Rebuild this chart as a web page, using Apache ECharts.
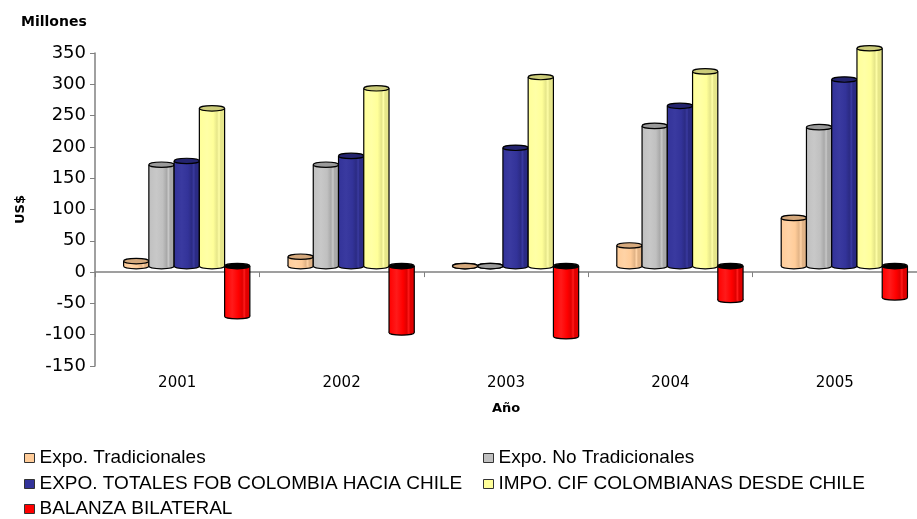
<!DOCTYPE html>
<html>
<head>
<meta charset="utf-8">
<script src="https://cdn.jsdelivr.net/npm/echarts@6/dist/echarts.min.js"></script>
<style>
  html, body { margin: 0; padding: 0; background: #fff; }
  #chart { width: 917px; height: 519px; }
</style>
</head>
<body>
<div id="chart"></div>
<script>
// Intercambio comercial Colombia - Chile, millones de US$
const years = ['2001', '2002', '2003', '2004', '2005'];
const expoTradicionales = [8, 15, 0, 33, 77];
const expoNoTradicionales = [162, 162, 0, 224, 222];
const expoTotales = [168, 176, 189, 256, 298];
const impoCif = [252, 284, 302, 311, 348];
const balanzaBilateral = [-80, -106, -112, -54, -50];
const yTicks = { min: -150, max: 350, interval: 50 };

const FONT = 'DejaVu Sans';
const LEGEND_FONT = 'Liberation Sans';

// cylinder palette: body light / body dark / top face / legend swatch
const seriesDefs = [
  { name: 'Expo. Tradicionales', values: expoTradicionales,
    light: '#FFD3A6', base: '#FFCC99', dark: '#E2B487', top: '#D4A87C', swatch: '#FFCC99' },
  { name: 'Expo. No Tradicionales', values: expoNoTradicionales,
    light: '#C8C8C8', base: '#C0C0C0', dark: '#A9A9A9', top: '#9A9A9A', swatch: '#C0C0C0' },
  { name: 'EXPO. TOTALES FOB COLOMBIA HACIA CHILE', values: expoTotales,
    light: '#3A3AA0', base: '#333399', dark: '#2B2B84', top: '#24246E', swatch: '#333399' },
  { name: 'IMPO. CIF COLOMBIANAS DESDE CHILE', values: impoCif,
    light: '#FFFFA6', base: '#FFFF99', dark: '#E6E68A', top: '#CCCC7A', swatch: '#FFFF99' },
  { name: 'BALANZA BILATERAL', values: balanzaBilateral,
    light: '#FF1A1A', base: '#FF0000', dark: '#E00000', top: '#000000', swatch: '#FF0000' }
];

// legend grid: [left, row centre]
const legendSlots = [[24, 458], [483, 458], [24, 484], [483, 484], [24, 509]];

function bodyGradient(d) {
  return new echarts.graphic.LinearGradient(0, 0, 1, 0, [
    { offset: 0, color: d.base },
    { offset: 0.3, color: d.light },
    { offset: 0.55, color: d.base },
    { offset: 0.7, color: d.dark },
    { offset: 0.78, color: d.light },
    { offset: 0.84, color: d.dark },
    { offset: 1, color: d.dark }
  ]);
}

// draws one column as a cylinder seen slightly from above (3D look)
function cylinderRenderer(idx, d) {
  return function (params, api) {
    const cat = api.value(0);
    const val = api.value(1);
    const band = api.size([1, 0])[0];
    const w = band * 0.1536;
    const depthX = band * 0.058;
    const depthY = -6;
    const zero = api.coord([cat, 0]);
    const end = api.coord([cat, val]);
    const x = zero[0] - 2.5 * w + idx * w + depthX;
    const yZero = zero[1] + depthY;
    const yVal = end[1] + depthY;
    const yUp = Math.min(yZero, yVal);
    const yLow = Math.max(yZero, yVal);
    const rx = w / 2;
    const ry = 2.7;
    const cx = x + rx;
    const grad = bodyGradient(d);
    return {
      type: 'group',
      children: [
        { type: 'ellipse', shape: { cx: cx, cy: yLow, rx: rx, ry: ry },
          style: { fill: grad, stroke: '#000', lineWidth: 1.2 } },
        { type: 'rect', shape: { x: x, y: yUp, width: w, height: yLow - yUp },
          style: { fill: grad } },
        { type: 'line', shape: { x1: x, y1: yUp, x2: x, y2: yLow },
          style: { stroke: '#000', lineWidth: 1.2 } },
        { type: 'line', shape: { x1: x + w, y1: yUp, x2: x + w, y2: yLow },
          style: { stroke: '#000', lineWidth: 1.2 } },
        { type: 'ellipse', shape: { cx: cx, cy: yUp, rx: rx, ry: ry },
          style: { fill: d.top, stroke: '#000', lineWidth: 1.2 } }
      ]
    };
  };
}

const series = seriesDefs.map(function (d, i) {
  return {
    type: 'custom',
    name: d.name,
    renderItem: cylinderRenderer(i, d),
    encode: { x: 0, y: 1 },
    itemStyle: { color: d.swatch },
    data: d.values.map(function (v, c) { return [c, v]; })
  };
});

const legends = seriesDefs.map(function (d, i) {
  const slot = legendSlots[i];
  return {
    left: slot[0], top: slot[1] - 9.5, padding: 0,
    itemWidth: 10, itemHeight: 9, icon: 'rect', selectedMode: false,
    textStyle: { fontFamily: LEGEND_FONT, fontSize: 19, color: '#000', lineHeight: 19 },
    data: [{ name: d.name, itemStyle: { color: d.swatch, borderColor: '#333', borderWidth: 1 } }]
  };
});

const option = {
  animation: false,
  backgroundColor: '#fff',
  title: {
    text: 'Millones', left: 21, top: 15, padding: 0,
    textStyle: { fontFamily: FONT, fontSize: 14, fontWeight: 'bold', color: '#000' }
  },
  legend: legends,
  grid: { left: 95, right: -6.5, top: 53, bottom: 153 },
  xAxis: {
    type: 'category',
    data: years,
    axisLine: { onZero: true, lineStyle: { color: '#808080', width: 1.5 } },
    axisTick: { show: true, length: 5, lineStyle: { color: '#808080', width: 1 } },
    axisLabel: { margin: 9.5, fontFamily: FONT, fontSize: 15, color: '#000' },
    name: 'Año',
    nameLocation: 'middle',
    nameGap: 36,
    nameTextStyle: { fontFamily: FONT, fontSize: 13, fontWeight: 'bold', color: '#000' }
  },
  yAxis: {
    type: 'value',
    min: yTicks.min, max: yTicks.max, interval: yTicks.interval,
    axisLine: { show: true, lineStyle: { color: '#808080', width: 1.5 } },
    axisTick: { show: true, length: 5, lineStyle: { color: '#808080', width: 1 } },
    splitLine: { show: false },
    axisLabel: { margin: 9, fontFamily: FONT, fontSize: 18, color: '#000' },
    name: 'US$',
    nameLocation: 'middle',
    nameRotate: 90,
    nameGap: 68,
    nameTextStyle: { fontFamily: FONT, fontSize: 13, fontWeight: 'bold', color: '#000' }
  },
  series: series
};

const chart = echarts.init(document.getElementById('chart'), null, { renderer: 'canvas' });
chart.setOption(option);
</script>
</body>
</html>
